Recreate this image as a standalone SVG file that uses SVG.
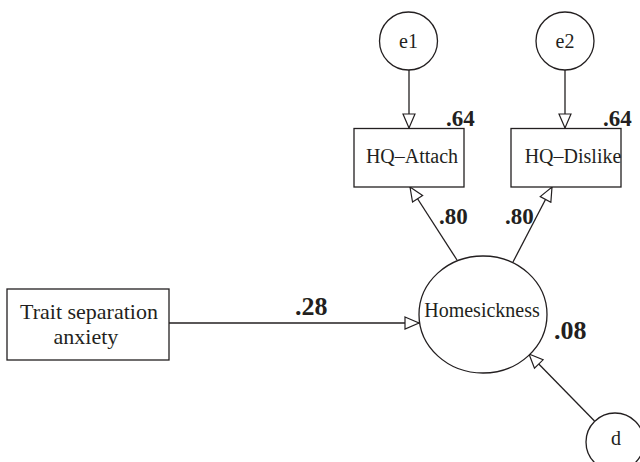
<svg xmlns="http://www.w3.org/2000/svg" width="640" height="462" viewBox="0 0 640 462">
<style>
.shape{fill:#fff;stroke:#231f20;stroke-width:1.3}
.lbl{font-family:"Liberation Serif","Times New Roman",serif;fill:#231f20;text-anchor:middle}
.num{font-family:"Liberation Serif","Times New Roman",serif;font-weight:bold;fill:#231f20}
.edge{stroke:#231f20;stroke-width:1.3;fill:none;marker-end:url(#arr)}
</style>
<defs>
<marker id="arr" markerUnits="userSpaceOnUse" markerWidth="18" markerHeight="14" viewBox="0 0 16 14" refX="15" refY="7" orient="auto">
<path d="M1,1 L15,7 L1,13 Z" fill="#fff" stroke="#231f20" stroke-width="1.2"/>
</marker>
</defs>
<rect width="640" height="462" fill="#fff"/>
<g id="connectors">
<line class="edge" x1="409" y1="70" x2="409" y2="128"/>
<line class="edge" x1="565" y1="70" x2="565" y2="128"/>
<line class="edge" x1="457" y1="260" x2="410" y2="187"/>
<line class="edge" x1="513" y1="262" x2="552" y2="187"/>
<line class="edge" x1="169" y1="323" x2="419" y2="323"/>
<line class="edge" x1="594.5" y1="421" x2="529" y2="354"/>
</g>
<g id="e1">
<circle class="shape" cx="408.5" cy="41" r="29"/>
<text class="lbl" x="408.5" y="48" font-size="20">e1</text>
</g>
<g id="e2">
<circle class="shape" cx="565" cy="41" r="29"/>
<text class="lbl" x="565" y="48" font-size="20">e2</text>
</g>
<g id="hq-attach">
<rect class="shape" x="354" y="128.5" width="110" height="58.5"/>
<text class="lbl" x="412" y="163" font-size="20">HQ–Attach</text>
<text class="num" x="446" y="126" font-size="23">.64</text>
</g>
<g id="hq-dislike">
<rect class="shape" x="511" y="128.5" width="110" height="58.5"/>
<text class="lbl" x="573" y="163" font-size="20">HQ–Dislike</text>
<text class="num" x="603" y="126" font-size="23">.64</text>
</g>
<g id="trait">
<rect class="shape" x="7" y="289" width="162" height="71"/>
<text class="lbl" x="89" y="319" font-size="22">Trait separation</text>
<text class="lbl" x="86" y="344" font-size="22">anxiety</text>
</g>
<g id="homesickness">
<ellipse class="shape" cx="483" cy="314.5" rx="64" ry="58.5"/>
<text class="lbl" x="482" y="317" font-size="20">Homesickness</text>
<text class="num" x="554" y="339" font-size="26">.08</text>
</g>
<g id="d">
<circle class="shape" cx="615" cy="442" r="29"/>
<text class="lbl" x="616" y="445" font-size="20">d</text>
</g>
<g id="edge-labels">
<text class="num" x="439" y="224" font-size="23">.80</text>
<text class="num" x="505" y="224" font-size="23">.80</text>
<text class="num" x="295" y="315" font-size="26">.28</text>
</g>
</svg>
